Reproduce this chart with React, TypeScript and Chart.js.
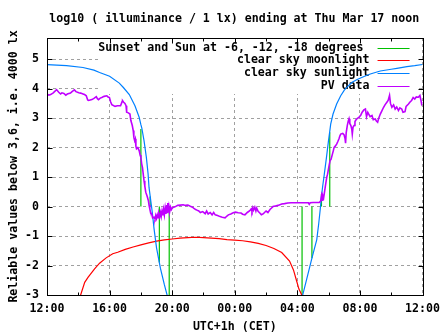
import { useEffect, useRef } from "react";
import { Chart, registerables } from "chart.js";

Chart.register(...registerables);

const FONT = '"DejaVu Sans Mono", "Liberation Mono", monospace';
const FS = 11.6;

const titleText = "log10 ( illuminance / 1 lx) ending at Thu Mar 17 noon";
const yAxisTitle = "Reliable values below 3,6, i.e. 4000 lx";
const xAxisTitle = "UTC+1h (CET)";

const xTickHours = [0, 4, 8, 12, 16, 20, 24];
const xTickLabels = ["12:00", "16:00", "20:00", "00:00", "04:00", "08:00", "12:00"];
const xMinorHours = [2, 6, 10, 14, 18, 22];
const yTickValues = [-3, -2, -1, 0, 1, 2, 3, 4, 5];
const yMin = -3;
const yMax = 5.72;

const legendLabels = [
  "Sunset and Sun at -6, -12, -18 degrees",
  "clear sky moonlight",
  "clear sky sunlight",
  "PV data",
];
const seriesColors = ["#00c000", "#ff0000", "#0080ff", "#c000ff"];

// Sunset and sun at -6, -12, -18 degrees (vertical markers)
const greenHours = [6.0, 6.59, 7.18, 7.81, 16.3, 16.93, 17.54, 18.07];
const greenTop = [2.63, 0.34, 0, 0, 0, 0, 0.43, 2.52];
const greenBottom = [0, 0, -1.9, -3, -3, -1.75, 0, 0];

// clear sky moonlight
const moonHours = [2.0, 2.15, 2.41, 2.62, 3.04, 3.36, 3.78, 4.2, 4.52, 5.0, 5.5, 6.0, 6.5, 7.0, 7.5, 8.0, 8.5, 9.0, 9.5, 10.0, 10.5, 11.0, 11.5, 12.0, 12.5, 13.0, 13.5, 14.0, 14.5, 15.0, 15.5, 15.75, 15.94, 16.1, 16.28, 16.4];
const moonValues = [-3.3, -3.0, -2.57, -2.4, -2.11, -1.92, -1.74, -1.6, -1.55, -1.45, -1.37, -1.3, -1.23, -1.17, -1.13, -1.1, -1.07, -1.05, -1.04, -1.05, -1.07, -1.09, -1.12, -1.14, -1.16, -1.2, -1.25, -1.32, -1.42, -1.56, -1.85, -2.15, -2.5, -2.8, -3.0, -3.3];

// clear sky sunlight
const sunHours = [0, 1.25, 2.3, 3.0, 3.36, 4.0, 4.62, 4.88, 5.26, 5.62, 5.89, 6.0, 6.06, 6.2, 6.35, 6.46, 6.52, 6.63, 6.73, 6.84, 7.0, 7.25, 7.5, 7.7, 7.8, 12, 16.25, 16.34, 16.6, 16.93, 17.24, 17.36, 17.46, 17.54, 17.62, 17.71, 17.86, 17.99, 18.07, 18.13, 18.28, 18.51, 18.77, 19.0, 19.19, 19.5, 19.82, 20.3, 20.66, 21.3, 22.0, 22.36, 23.0, 23.5, 24];
const sunValues = [4.82, 4.78, 4.72, 4.63, 4.55, 4.42, 4.19, 4.04, 3.8, 3.42, 3.03, 2.78, 2.66, 2.24, 1.67, 1.11, 0.65, 0.2, -0.2, -0.75, -1.4, -2.1, -2.65, -3.05, -3.3, null, -3.3, -3.0, -2.45, -1.75, -1.12, -0.6, -0.1, 0.35, 0.7, 1.05, 1.67, 2.24, 2.55, 2.8, 3.14, 3.48, 3.76, 3.95, 4.06, 4.22, 4.31, 4.42, 4.5, 4.6, 4.66, 4.69, 4.75, 4.78, 4.82];

// PV data
const pvHours = [0.0, 0.12, 0.23, 0.4, 0.61, 0.75, 0.87, 0.95, 1.08, 1.2, 1.3, 1.5, 1.6, 1.75, 1.85, 2.03, 2.15, 2.3, 2.4, 2.51, 2.6, 2.66, 2.87, 3.0, 3.15, 3.22, 3.29, 3.4, 3.5, 3.65, 3.82, 3.9, 3.99, 4.07, 4.14, 4.35, 4.5, 4.7, 4.8, 4.83, 4.9, 4.98, 5.05, 5.09, 5.2, 5.3, 5.36, 5.45, 5.51, 5.55, 5.6, 5.64, 5.68, 5.72, 5.8, 5.89, 5.95, 6.0, 6.05, 6.1, 6.15, 6.2, 6.25, 6.31, 6.4, 6.48, 6.52, 6.57, 6.62, 6.69, 6.75, 6.84, 6.9, 6.95, 7.0, 7.05, 7.1, 7.15, 7.2, 7.26, 7.3, 7.35, 7.4, 7.45, 7.5, 7.55, 7.6, 7.65, 7.68, 7.72, 7.76, 7.8, 7.85, 7.9, 7.95, 8.0, 8.1, 8.21, 8.35, 8.53, 8.7, 8.85, 9.0, 9.16, 9.3, 9.37, 9.5, 9.58, 9.7, 9.8, 9.95, 10.11, 10.2, 10.3, 10.43, 10.55, 10.65, 10.75, 10.9, 11.06, 11.2, 11.38, 11.5, 11.59, 11.75, 11.9, 12.05, 12.22, 12.4, 12.5, 12.65, 12.8, 12.96, 13.05, 13.1, 13.15, 13.2, 13.28, 13.35, 13.4, 13.49, 13.6, 13.7, 13.81, 13.9, 14.0, 14.12, 14.25, 14.35, 14.44, 14.6, 14.76, 15.0, 15.18, 15.39, 15.6, 16.02, 16.5, 16.7, 16.76, 16.82, 17.0, 17.4, 17.5, 17.54, 17.58, 17.62, 17.68, 17.75, 17.82, 17.88, 17.93, 17.97, 18.03, 18.09, 18.15, 18.24, 18.3, 18.35, 18.42, 18.51, 18.58, 18.66, 18.72, 18.77, 18.9, 18.98, 19.05, 19.08, 19.12, 19.19, 19.25, 19.3, 19.35, 19.42, 19.48, 19.51, 19.56, 19.62, 19.68, 19.72, 19.8, 19.93, 20.05, 20.14, 20.25, 20.35, 20.42, 20.5, 20.56, 20.65, 20.77, 20.85, 20.98, 21.05, 21.13, 21.2, 21.3, 21.4, 21.51, 21.6, 21.72, 21.8, 21.89, 21.95, 22.04, 22.15, 22.25, 22.35, 22.46, 22.55, 22.67, 22.75, 22.88, 22.95, 23.1, 23.2, 23.3, 23.4, 23.5, 23.6, 23.73, 23.83, 23.9, 23.94, 24.0];
const pvValues = [3.82, 3.78, 3.80, 3.86, 3.97, 3.88, 3.82, 3.86, 3.84, 3.78, 3.82, 3.85, 3.9, 3.96, 3.9, 3.86, 3.85, 3.82, 3.8, 3.76, 3.62, 3.6, 3.63, 3.67, 3.73, 3.66, 3.63, 3.68, 3.7, 3.74, 3.76, 3.72, 3.7, 3.55, 3.46, 3.4, 3.42, 3.42, 3.56, 3.59, 3.54, 3.5, 3.42, 3.2, 3.18, 3.14, 2.92, 2.75, 2.58, 2.35, 2.24, 2.3, 2.05, 1.96, 2.0, 1.9, 1.75, 1.67, 1.45, 1.33, 1.1, 0.88, 0.7, 0.49, 0.35, 0.2, 0.05, -0.08, -0.2, -0.25, -0.38, -0.36, -0.42, -0.3, -0.4, -0.28, -0.38, -0.25, -0.35, -0.2, -0.33, -0.15, -0.3, -0.1, -0.28, -0.05, -0.25, 0.05, -0.2, 0.12, -0.2, 0.0, -0.15, -0.02, -0.1, -0.05, -0.02, 0.0, 0.04, 0.05, 0.06, 0.04, 0.05, 0.01, -0.02, -0.05, -0.1, -0.12, -0.15, -0.2, -0.17, -0.24, -0.15, -0.25, -0.2, -0.28, -0.2, -0.28, -0.3, -0.34, -0.36, -0.38, -0.32, -0.28, -0.25, -0.21, -0.19, -0.21, -0.22, -0.26, -0.28, -0.2, -0.14, -0.08, -0.16, -0.04, -0.12, -0.02, -0.15, -0.05, -0.16, -0.22, -0.28, -0.25, -0.2, -0.15, -0.2, -0.1, -0.05, 0.0, 0.02, 0.04, 0.09, 0.1, 0.12, 0.13, 0.13, 0.13, 0.13, 0.08, 0.13, 0.14, 0.14, 0.2, 0.35, 0.22, 0.38, 0.3, 0.55, 0.8, 1.0, 1.1, 1.22, 1.4, 1.56, 1.6, 1.78, 1.9, 2.01, 2.05, 2.12, 2.2, 2.3, 2.4, 2.46, 2.48, 2.44, 2.3, 2.15, 2.5, 2.75, 2.9, 2.98, 2.82, 2.75, 2.62, 2.46, 2.7, 2.75, 2.88, 2.92, 2.98, 3.03, 3.1, 3.2, 3.28, 3.31, 3.05, 3.2, 3.14, 3.05, 3.09, 2.95, 2.97, 2.9, 2.86, 3.0, 3.14, 3.25, 3.37, 3.45, 3.54, 3.6, 3.77, 3.5, 3.37, 3.45, 3.31, 3.38, 3.26, 3.35, 3.31, 3.2, 3.22, 3.4, 3.48, 3.55, 3.6, 3.7, 3.65, 3.72, 3.71, 3.77, 3.6, 3.48, 3.54];

const font = { family: FONT, size: FS, weight: "bold" as const };

const gnuplotFrame = {
  id: "gnuplotFrame",
  beforeDatasetsDraw(chart: any) {
    const ctx = chart.ctx;
    const { left, right, top } = chart.chartArea;
    ctx.save();
    // opaque key area (hides grid behind it)
    ctx.fillStyle = "#ffffff";
    ctx.fillRect(left + 51, top + 1, right - left - 57, 55);
    ctx.font = `bold ${FS}px ${FONT}`;
    ctx.textAlign = "right";
    ctx.textBaseline = "middle";
    legendLabels.forEach((label, i) => {
      const y = top + 9.5 + i * 12.8;
      ctx.fillStyle = "#000";
      ctx.fillText(label, right - (i === 0 ? 59 : 53), y);
      ctx.strokeStyle = seriesColors[i];
      ctx.lineWidth = 1;
      ctx.beginPath();
      const ly = Math.round(y) + 0.5;
      ctx.moveTo(right - 45, ly);
      ctx.lineTo(right - 13, ly);
      ctx.stroke();
    });
    ctx.restore();
  },
  afterDraw(chart: any) {
    const ctx = chart.ctx;
    const { left, right, top, bottom } = chart.chartArea;
    const xs = chart.scales.x;
    const ys = chart.scales.y;
    ctx.save();
    ctx.strokeStyle = "#000";
    ctx.lineWidth = 1;
    const L = Math.round(left) + 0.5;
    const R = Math.round(right) + 0.5;
    const T = Math.round(top) + 0.5;
    const B = Math.round(bottom) + 0.5;
    ctx.strokeRect(L, T, R - L, B - T);
    ctx.beginPath();
    const vt = (h: number, len: number) => {
      const px = Math.round(xs.getPixelForValue(h)) + 0.5;
      ctx.moveTo(px, B);
      ctx.lineTo(px, B - len);
      ctx.moveTo(px, T);
      ctx.lineTo(px, T + len);
    };
    xTickHours.forEach((h) => vt(h, 5));
    xMinorHours.forEach((h) => vt(h, 3));
    yTickValues.forEach((v) => {
      const py = Math.round(ys.getPixelForValue(v)) + 0.5;
      ctx.moveTo(L, py);
      ctx.lineTo(L + 5, py);
      ctx.moveTo(R, py);
      ctx.lineTo(R - 5, py);
    });
    ctx.stroke();
    ctx.fillStyle = "#000";
    ctx.font = `bold ${FS}px ${FONT}`;
    ctx.textAlign = "center";
    ctx.textBaseline = "middle";
    ctx.fillText(titleText, (left + right) / 2 - 0.5, 19);
    ctx.restore();
  },
};

export default function App() {
  const ref = useRef<HTMLCanvasElement | null>(null);
  useEffect(() => {
    if (!ref.current) return;
    const green: any[] = [];
    greenHours.forEach((h, i) => {
      green.push({ x: h, y: greenTop[i] });
      green.push({ x: h, y: greenBottom[i] });
      green.push({ x: h, y: null });
    });
    const chart = new Chart(ref.current, {
      type: "line",
      data: {
        datasets: [
          {
            label: legendLabels[0],
            data: green,
            borderColor: seriesColors[0],
            borderWidth: 1.2,
            spanGaps: false,
            order: 4,
          },
          {
            label: legendLabels[1],
            data: moonHours.map((h, i) => ({ x: h, y: moonValues[i] })),
            borderColor: seriesColors[1],
            borderWidth: 1.2,
            order: 3,
          },
          {
            label: legendLabels[2],
            data: sunHours.map((h, i) => ({ x: h, y: sunValues[i] })),
            borderColor: seriesColors[2],
            borderWidth: 1.2,
            spanGaps: false,
            order: 2,
          },
          {
            label: legendLabels[3],
            data: pvHours.map((h, i) => ({ x: h, y: pvValues[i] })),
            borderColor: seriesColors[3],
            borderWidth: 1.6,
            order: 1,
          },
        ],
      },
      options: {
        animation: false,
        responsive: false,
        devicePixelRatio: 1,
        events: [],
        layout: { padding: { top: 38, right: 21, left: 0, bottom: 0 } },
        elements: { point: { radius: 0 }, line: { tension: 0 } },
        plugins: {
          legend: { display: false },
          title: { display: false },
          tooltip: { enabled: false },
        },
        scales: {
          x: {
            type: "linear",
            min: 0,
            max: 24,
            afterBuildTicks: (s: any) => {
              s.ticks = xTickHours.map((v) => ({ value: v }));
            },
            afterFit: (s: any) => {
              s.height = 40;
            },
            ticks: {
              autoSkip: false,
              maxRotation: 0,
              padding: 7,
              color: "#000",
              font,
              callback: (v: any) => xTickLabels[xTickHours.indexOf(Number(v))],
            },
            grid: { color: "#a0a0a0", lineWidth: 1, drawTicks: false },
            border: { display: false, dash: [3, 3] },
            title: {
              display: true,
              text: xAxisTitle,
              color: "#000",
              font,
              padding: { top: 0, bottom: 1 },
            },
          },
          y: {
            type: "linear",
            min: yMin,
            max: yMax,
            afterBuildTicks: (s: any) => {
              s.ticks = yTickValues.map((v) => ({ value: v }));
            },
            afterFit: (s: any) => {
              s.width = 47;
            },
            ticks: {
              padding: 8,
              color: "#000",
              font,
              callback: (v: any) => String(v),
            },
            grid: { color: "#a0a0a0", lineWidth: 1, drawTicks: false },
            border: { display: false, dash: [3, 3] },
            title: {
              display: true,
              text: yAxisTitle,
              color: "#000",
              font,
              padding: { top: 7, bottom: 0 },
            },
          },
        },
      },
      plugins: [gnuplotFrame],
    } as any);
    return () => chart.destroy();
  }, []);
  return (
    <div style={{ position: "absolute", left: 0, top: 0, width: 447, height: 335, background: "#fff" }}>
      <canvas ref={ref} width={447} height={335} style={{ width: 447, height: 335, display: "block" }} />
    </div>
  );
}
